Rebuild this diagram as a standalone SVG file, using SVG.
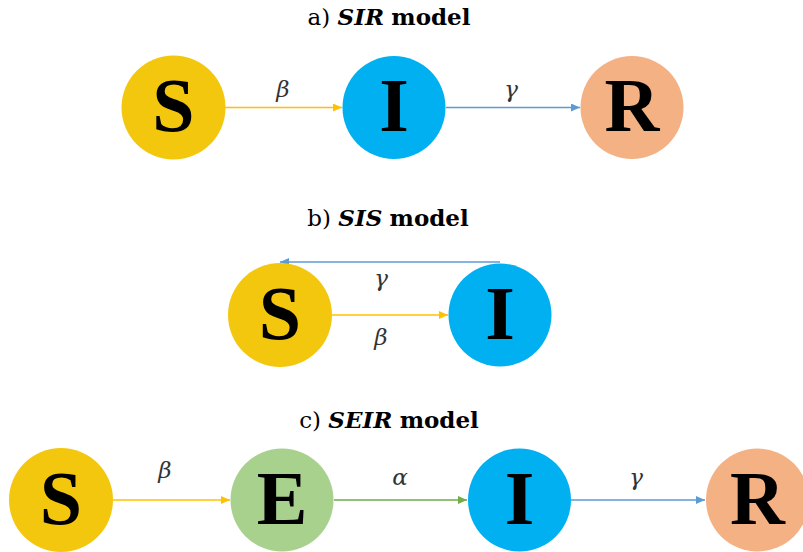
<svg xmlns="http://www.w3.org/2000/svg" width="803" height="552" viewBox="0 0 803 552">
<defs>
<style>
.title{font-family:"DejaVu Serif","Liberation Serif",serif;font-size:23px;fill:#000;text-anchor:middle}
.ib{font-weight:bold;font-style:italic}
.b{font-weight:bold}
.node-label{font-family:"Liberation Serif","DejaVu Serif",serif;font-size:76px;font-weight:bold;fill:#000;text-anchor:middle}
.greek{font-family:"DejaVu Serif","Liberation Serif",serif;font-size:23px;font-style:italic;fill:#333;text-anchor:middle}
.s{fill:#F4C70F}
.i{fill:#00B0F0}
.r{fill:#F4B183}
.e{fill:#A9D18E}
.ay{stroke:#FFC000;stroke-width:1.6;fill:none}
.ab{stroke:#5B9BD5;stroke-width:1.6;fill:none}
.ag{stroke:#70AD47;stroke-width:1.6;fill:none}
</style>
<marker id="my" markerUnits="userSpaceOnUse" markerWidth="10" markerHeight="8" refX="9" refY="4" orient="auto"><path d="M0,0 L9,4 L0,8 Z" fill="#FFC000"/></marker>
<marker id="mb" markerUnits="userSpaceOnUse" markerWidth="10" markerHeight="8" refX="9" refY="4" orient="auto"><path d="M0,0 L9,4 L0,8 Z" fill="#5B9BD5"/></marker>
<marker id="mg" markerUnits="userSpaceOnUse" markerWidth="10" markerHeight="8" refX="9" refY="4" orient="auto"><path d="M0,0 L9,4 L0,8 Z" fill="#70AD47"/></marker>
</defs>
<rect width="803" height="552" fill="#fff"/>

<g id="titles">
<text class="title" x="389" y="25">a) <tspan class="ib">SIR</tspan> <tspan class="b">model</tspan></text>
<text class="title" x="388" y="226">b) <tspan class="ib">SIS</tspan> <tspan class="b">model</tspan></text>
<text class="title" x="389" y="428">c) <tspan class="ib">SEIR</tspan> <tspan class="b">model</tspan></text>
</g>

<g id="connectors">
<line class="ay" x1="225" y1="107.5" x2="342" y2="107.5" marker-end="url(#my)"/>
<line class="ab" x1="446" y1="107.5" x2="580" y2="107.5" marker-end="url(#mb)"/>
<line class="ab" x1="500" y1="262" x2="280" y2="262" marker-end="url(#mb)"/>
<line class="ay" x1="332" y1="315" x2="448" y2="315" marker-end="url(#my)"/>
<line class="ay" x1="113" y1="500" x2="230" y2="500" marker-end="url(#my)"/>
<line class="ag" x1="334" y1="500" x2="467" y2="500" marker-end="url(#mg)"/>
<line class="ab" x1="571" y1="500" x2="705" y2="500" marker-end="url(#mb)"/>
<text class="greek" x="283" y="97">β</text>
<text class="greek" x="511" y="97">γ</text>
<text class="greek" x="381" y="286">γ</text>
<text class="greek" x="381" y="345">β</text>
<text class="greek" x="165" y="478">β</text>
<text class="greek" x="400" y="485">α</text>
<text class="greek" x="636" y="485">γ</text>
</g>

<g id="sir-S"><circle class="s" cx="173.5" cy="107.5" r="52"/><text class="node-label" x="173.5" y="131">S</text></g>
<g id="sir-I"><circle class="i" cx="394" cy="107.5" r="51.5"/><text class="node-label" x="394" y="131">I</text></g>
<g id="sir-R"><circle class="r" cx="632" cy="107.5" r="51.5"/><text class="node-label" x="632" y="131">R</text></g>

<g id="sis-S"><circle class="s" cx="280" cy="315" r="52"/><text class="node-label" x="280" y="339">S</text></g>
<g id="sis-I"><circle class="i" cx="500" cy="315" r="51.5"/><text class="node-label" x="500" y="339">I</text></g>

<g id="seir-S"><circle class="s" cx="61" cy="500" r="52"/><text class="node-label" x="61" y="524">S</text></g>
<g id="seir-E"><circle class="e" cx="282" cy="500" r="51.5"/><text class="node-label" x="282" y="524">E</text></g>
<g id="seir-I"><circle class="i" cx="519.5" cy="500" r="51.5"/><text class="node-label" x="519.5" y="524">I</text></g>
<g id="seir-R"><circle class="r" cx="757.5" cy="500" r="51.5"/><text class="node-label" x="757.5" y="524">R</text></g>
</svg>
